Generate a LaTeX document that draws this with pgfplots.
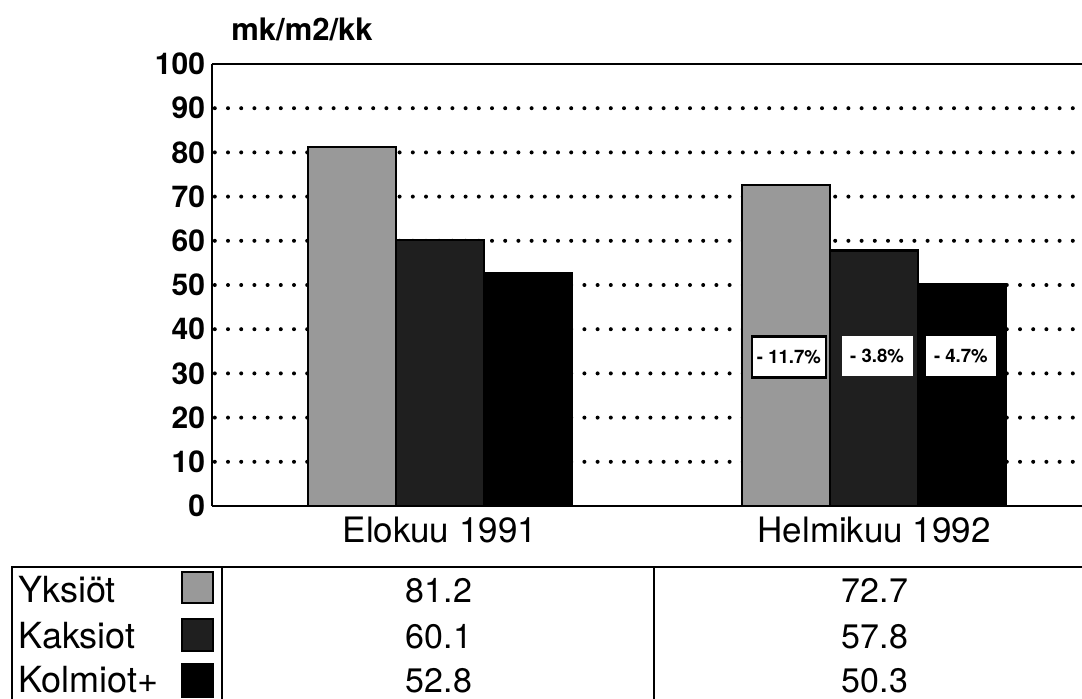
\documentclass[border=0pt]{standalone}
\usepackage{fontspec}
\setmainfont{TeX Gyre Heros}
\usepackage{pgfplots}
\pgfplotsset{compat=1.18}
\definecolor{yks}{gray}{0.6}
\definecolor{kak}{gray}{0.12}
\definecolor{kol}{gray}{0.0}
\begin{document}
\begin{tikzpicture}
\useasboundingbox (-106pt,-96pt) rectangle (435pt,253pt);
\begin{axis}[
  at={(0pt,0pt)}, anchor=south west,
  scale only axis, width=435pt, height=221pt,
  xmin=-0.525, xmax=1.479, ymin=0, ymax=100,
  axis x line=box, axis y line=left,
  every outer x axis line/.append style={-},
  every outer y axis line/.append style={-},
  every inner x axis line/.append style={-},
  every inner y axis line/.append style={-},
  axis line style={line width=1.4pt, black},
  xtick={0,1}, xticklabels={Elokuu 1991, Helmikuu 1992},
  ytick={0,10,...,100},
  major tick length=0pt,
  xticklabel style={font=\fontsize{17.5}{20}\selectfont, yshift=-2pt},
  yticklabel style={font=\fontsize{15}{18}\selectfont\bfseries},
  /pgf/number format/assume math mode=true,
  extra y ticks={10,20,...,90},
  extra y tick labels={},
  extra y tick style={ymajorgrids=true},
  major grid style={black, line width=2pt, line cap=round, dash pattern=on 0pt off 6.6pt, dash phase=-8pt},
  clip=false,
]
\addplot[ybar, bar width=0.203, bar shift=-0.203, fill=yks, draw=black, line width=1.1pt] coordinates {(0,81.2) (1,72.7)};
\addplot[ybar, bar width=0.203, bar shift=0, fill=kak, draw=black, line width=1.1pt] coordinates {(0,60.1) (1,57.8)};
\addplot[ybar, bar width=0.203, bar shift=0.203, fill=kol, draw=black, line width=1.1pt] coordinates {(0,52.8) (1,50.3)};
\node[fill=white, draw=black, line width=1.3pt, minimum width=37pt, minimum height=20.5pt, inner sep=1pt, font=\fontsize{9.3}{10}\selectfont\bfseries] at (axis cs:0.804,33.7) {- 11.7\%};
\node[fill=white, draw=white, minimum width=35pt, minimum height=19.5pt, inner sep=1pt, font=\fontsize{9.3}{10}\selectfont\bfseries] at (axis cs:1.007,34.0) {- 3.8\%};
\node[fill=white, draw=white, minimum width=34.5pt, minimum height=19.5pt, inner sep=1pt, font=\fontsize{9.3}{10}\selectfont\bfseries] at (axis cs:1.200,34.0) {- 4.7\%};
\end{axis}
% y unit label
\node[font=\fontsize{15.5}{17}\selectfont\bfseries] at (45pt,238.5pt) {mk/m2/kk};
% data table below
\draw[line width=1.1pt] (-100pt,-97pt) -- (-100pt,-30.5pt) -- (436pt,-30.5pt);
\draw[line width=0.7pt] (5pt,-30.5pt) -- (5pt,-97pt);
\draw[line width=0.7pt] (221pt,-30.5pt) -- (221pt,-97pt);
\node[anchor=base west, font=\fontsize{18}{20}\selectfont, inner sep=0pt] at (-97pt,-48pt) {Yksiöt};
\node[anchor=base west, font=\fontsize{18}{20}\selectfont, inner sep=0pt] at (-97pt,-71pt) {Kaksiot};
\node[anchor=base west, font=\fontsize{18}{20}\selectfont, inner sep=0pt] at (-97pt,-93pt) {Kolmiot+};
\draw[fill=yks, line width=0.8pt] (-15pt,-48.5pt) rectangle (0.5pt,-33pt);
\draw[fill=kak, line width=0.8pt] (-15pt,-72.5pt) rectangle (0.5pt,-56.5pt);
\draw[fill=kol, line width=0.8pt] (-15pt,-95.5pt) rectangle (0.5pt,-79pt);
\node[anchor=base, font=\fontsize{17}{20}\selectfont, inner sep=0pt] at (113.5pt,-48pt) {81.2};
\node[anchor=base, font=\fontsize{17}{20}\selectfont, inner sep=0pt] at (113.5pt,-71pt) {60.1};
\node[anchor=base, font=\fontsize{17}{20}\selectfont, inner sep=0pt] at (113.5pt,-93pt) {52.8};
\node[anchor=base, font=\fontsize{17}{20}\selectfont, inner sep=0pt] at (331.5pt,-48pt) {72.7};
\node[anchor=base, font=\fontsize{17}{20}\selectfont, inner sep=0pt] at (331.5pt,-71pt) {57.8};
\node[anchor=base, font=\fontsize{17}{20}\selectfont, inner sep=0pt] at (331.5pt,-93pt) {50.3};
\end{tikzpicture}
\end{document}
